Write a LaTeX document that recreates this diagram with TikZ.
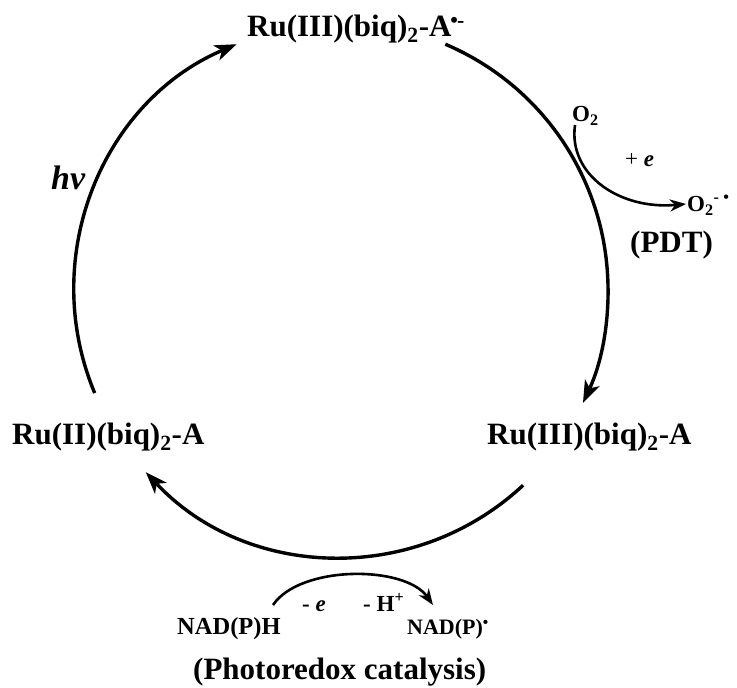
\documentclass[tikz,border=0pt]{standalone}
\usepackage{fontspec}
\setmainfont{Liberation Serif}
\usetikzlibrary{arrows.meta,calc}
\begin{document}
\begin{tikzpicture}[x=1pt,y=1pt,
  big/.style={inner sep=0pt,anchor=base west,font=\fontsize{31}{36}\selectfont\bfseries},
  small/.style={inner sep=0pt,anchor=base west,font=\fontsize{22}{26}\selectfont\bfseries},
  cyc/.style={line width=3.4pt,-{Stealth[length=22pt,width=16pt,inset=6pt]}},
  sub/.style={line width=2.6pt,-{Stealth[length=16pt,width=12pt,inset=5pt]}}]
\useasboundingbox (0,0) rectangle (737,688);
% cycle centre
\coordinate (C) at (341,398);
% labels
\node[big] (top) at (247,651) {Ru(III)(biq)\textsubscript{2}-A\textsuperscript{\kern-1pt\textbullet\kern-1pt-}};
\node[big] (left) at (12,243) {Ru(II)(biq)\textsubscript{2}-A};
\node[big] (right) at (487,243) {Ru(III)(biq)\textsubscript{2}-A};
\node[big,font=\fontsize{34}{38}\selectfont\bfseries\itshape] (hv) at (51,498) {hv};
\node[small,font=\fontsize{23}{26}\selectfont\bfseries] (o2) at (572,566) {O\textsubscript{2}};
\node[small,font=\fontsize{23}{26}\selectfont] (pe) at (625,521) {+ \textbf{\textit{e}}};
\node[small,font=\fontsize{23}{26}\selectfont\bfseries] (o2r) at (687,476) {O\textsubscript{2}\textsuperscript{-}\,\textsuperscript{\textbullet}};
\node[big] (pdt) at (630,435) {(PDT)};
\node[small,font=\fontsize{23}{26}\selectfont\bfseries] (me) at (302,76) {- \textit{e}};
\node[small,font=\fontsize{23}{26}\selectfont\bfseries] (mh) at (363,76) {- H\textsuperscript{+}};
\node[small,font=\fontsize{24.5}{28}\selectfont\bfseries] (nadh) at (177,53) {NAD(P)H};
\node[small] (nad) at (407,53) {NAD(P)\textsuperscript{\textbullet}};
\node[big] (photo) at (193,8) {(Photoredox catalysis)};
% arc end points
\coordinate (l1) at ($(C)+(202.7:267)$);
\coordinate (r1) at ($(C)+(67:267)$);
\coordinate (b1) at ($(C)+(-47:267)$);
\draw[cyc] (l1) arc[start angle=202.7,end angle=113,radius=267];
\draw[cyc] (r1) arc[start angle=67,end angle=-25,radius=267];
\draw[cyc] (b1) arc[start angle=-47,end angle=-137,radius=267];
% side reactions
\coordinate (o2s) at (575,563);
\coordinate (o2e) at (686,484);
\draw[sub] (o2s) .. controls (568,513) and (620,478) .. (o2e);
\coordinate (ns) at (273,83);
\coordinate (ne) at (433,83);
\draw[sub] (ns) .. controls (300,123) and (405,123) .. (ne);
\end{tikzpicture}
\end{document}
